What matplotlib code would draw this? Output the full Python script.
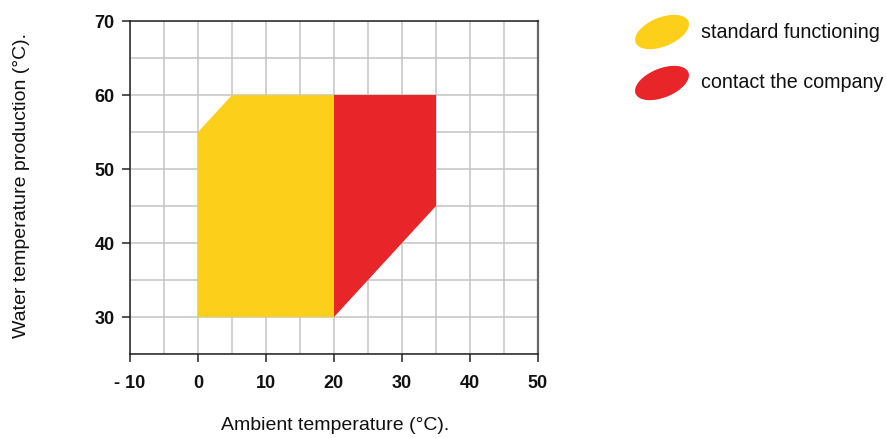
import matplotlib
matplotlib.use('Agg')
import matplotlib.pyplot as plt
from matplotlib.patches import Polygon, Ellipse

# data
std_x = [0, 0, 5, 20, 20]       # standard functioning area
std_y = [30, 55, 60, 60, 30]
contact_x = [20, 20, 35, 35]     # contact the company area
contact_y = [30, 60, 60, 45]
x_ticks = [-10, 0, 10, 20, 30, 40, 50]
x_labels = ['- 10', '0', '10', '20', '30', '40', '50']
y_ticks = [30, 40, 50, 60, 70]
legend_labels = ['standard functioning', 'contact the company']

yellow = '#FCD01A'
red = '#E8262A'
sans = ['Liberation Sans', 'DejaVu Sans']

fig = plt.figure(figsize=(8.86, 4.38), dpi=100)
ax = fig.add_axes([0.1467, 0.1918, 0.4602, 0.7596])

ax.add_patch(Polygon(list(zip(std_x, std_y)), closed=True, facecolor=yellow, edgecolor='none', zorder=2))
ax.add_patch(Polygon(list(zip(contact_x, contact_y)), closed=True, facecolor=red, edgecolor='none', zorder=2))

ax.set_xlim(-10, 50)
ax.set_ylim(25, 70)
ax.set_xticks(x_ticks)
ax.set_xticklabels(x_labels)
ax.set_yticks(y_ticks)
ax.set_xticks(range(-10, 51, 5), minor=True)
ax.set_yticks(range(25, 71, 5), minor=True)
ax.grid(which='both', color='#c4c4c4', linewidth=1.1, zorder=1)
ax.set_axisbelow(True)
ax.tick_params(which='minor', length=0)
ax.tick_params(which='major', length=6, width=1.1, color='#222222', pad=9)
ax.tick_params(axis='y', pad=5)
for lab in ax.get_xticklabels() + ax.get_yticklabels():
    lab.set_fontfamily(sans)
    lab.set_fontweight('bold')
    lab.set_fontsize(13)
    lab.set_color('#111111')
for s in ['left', 'bottom', 'top']:
    ax.spines[s].set_color('#222222')
    ax.spines[s].set_linewidth(1.1)
ax.spines['right'].set_color('#666666')
ax.spines['right'].set_linewidth(1.6)

fig.text(335 / 886, 1 - 425 / 438, 'Ambient temperature (°C).', ha='center', va='center',
         fontsize=14, family=sans, color='#111111')
fig.text(22 / 886, 1 - 185 / 438, 'Water temperature production (°C).', ha='center', va='center',
         rotation=90, fontsize=14, family=sans, color='#111111')

# legend drawn in pixel space
lax = fig.add_axes([0, 0, 1, 1])
lax.set_xlim(0, 886)
lax.set_ylim(438, 0)
lax.axis('off')
for i, (lab, col) in enumerate(zip(legend_labels, [yellow, red])):
    cy = 32 + i * 51
    lax.add_patch(Ellipse((662, cy), 57, 29, angle=-22, facecolor=col, edgecolor='none'))
    lax.text(701, cy, lab, ha='left', va='center', fontsize=14.2, family=sans, color='#111111')

fig.savefig('out.png', dpi=100)
